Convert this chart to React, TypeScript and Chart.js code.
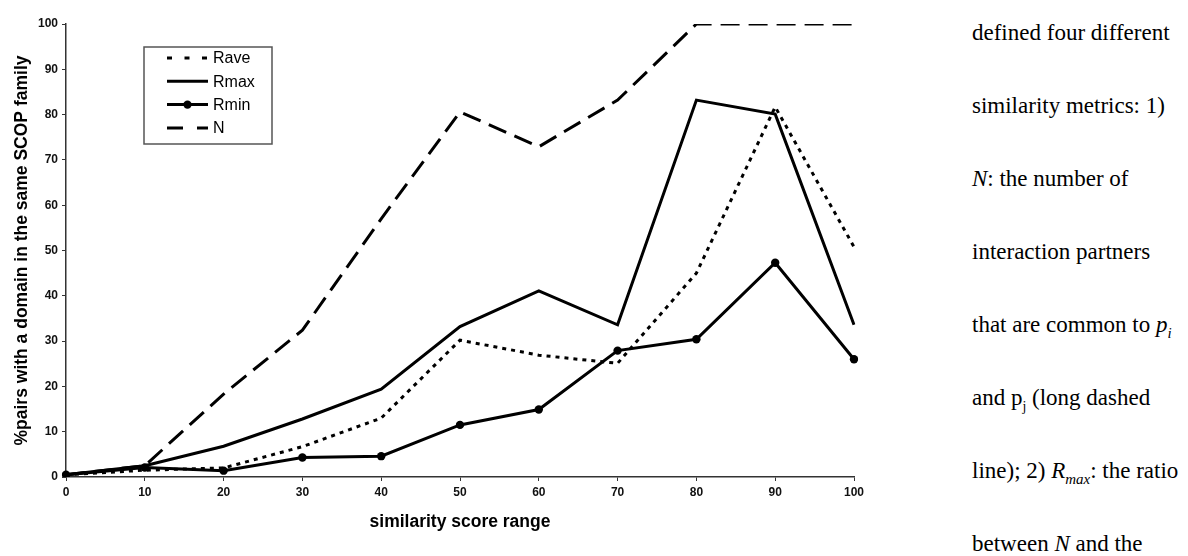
import React, { useEffect, useRef } from 'react';
import { Chart, registerables } from 'chart.js';

Chart.register(...registerables);

const categories = ['0', '10', '20', '30', '40', '50', '60', '70', '80', '90', '100'];
const raveValues = [0.5, 1.5, 2.0, 6.7, 13.0, 30.2, 26.9, 25.1, 45.0, 81.7, 50.8];
const rmaxValues = [0.5, 2.5, 6.8, 12.8, 19.4, 33.2, 41.1, 33.6, 83.2, 80.1, 33.6];
const rminValues = [0.5, 2.1, 1.4, 4.3, 4.6, 11.5, 14.9, 27.9, 30.4, 47.3, 26.0];
const nValues = [0.5, 2.5, 18.3, 32.4, 57.0, 80.6, 72.9, 83.2, 100, 100, 100];
const seriesNames = ['Rave', 'Rmax', 'Rmin', 'N'];
const yMin = 0;
const yMax = 100;
const yStep = 10;
const xTitle = 'similarity score range';
const yTitle = '%pairs with a domain in the same SCOP family';

const SANS = '"Liberation Sans", Arial, Helvetica, sans-serif';

const legendDash: Record<string, number[]> = {
  Rave: [5, 12.5],
  Rmax: [],
  Rmin: [],
  N: [16, 14],
};

const boxLegend = {
  id: 'boxLegend',
  afterDraw(chart: any) {
    const ctx = chart.ctx as CanvasRenderingContext2D;
    const area = chart.chartArea;
    const bx = area.left + 78;
    const by = area.top + 23;
    const bw = 128;
    const bh = 97;
    ctx.save();
    ctx.fillStyle = '#ffffff';
    ctx.fillRect(bx, by, bw, bh);
    ctx.strokeStyle = '#555555';
    ctx.lineWidth = 1.5;
    ctx.setLineDash([]);
    ctx.strokeRect(bx, by, bw, bh);
    const rowStart = by + 11;
    const rowStep = 23.3;
    chart.data.datasets.forEach((ds: any, i: number) => {
      const y = rowStart + i * rowStep;
      const x1 = bx + 23;
      const x2 = bx + 64;
      ctx.beginPath();
      ctx.setLineDash(legendDash[ds.label] || []);
      ctx.lineWidth = 3;
      ctx.strokeStyle = '#000';
      ctx.moveTo(x1, y);
      ctx.lineTo(x2, y);
      ctx.stroke();
      ctx.setLineDash([]);
      if (ds.pointRadius && ds.pointRadius > 0) {
        ctx.beginPath();
        ctx.fillStyle = '#000';
        ctx.arc((x1 + x2) / 2, y, 4.2, 0, Math.PI * 2);
        ctx.fill();
      }
      ctx.fillStyle = '#000';
      ctx.font = `16px ${SANS}`;
      ctx.textBaseline = 'middle';
      ctx.textAlign = 'left';
      ctx.fillText(ds.label, x2 + 5, y + 1);
    });
    ctx.restore();
  },
};

function ChartBox() {
  const ref = useRef<HTMLCanvasElement | null>(null);
  useEffect(() => {
    if (!ref.current) return;
    const common = {
      borderColor: '#000',
      backgroundColor: '#000',
      borderWidth: 3,
      tension: 0,
      fill: false,
    };
    const chart = new Chart(ref.current, {
      type: 'line',
      data: {
        labels: categories,
        datasets: [
          { ...common, label: seriesNames[0], data: raveValues, borderDash: [4, 5], pointRadius: 0 },
          { ...common, label: seriesNames[1], data: rmaxValues, pointRadius: 0 },
          {
            ...common,
            label: seriesNames[2],
            data: rminValues,
            pointRadius: 4.2,
            pointBackgroundColor: '#000',
            pointBorderColor: '#000',
            pointBorderWidth: 0,
          },
          { ...common, label: seriesNames[3], data: nValues, borderDash: [19, 9], pointRadius: 0 },
        ],
      },
      options: {
        responsive: false,
        animation: false,
        events: [],
        layout: { padding: { left: 0, top: 24, right: 116, bottom: 0 } },
        plugins: {
          legend: { display: false },
          tooltip: { enabled: false },
          title: { display: false },
        },
        scales: {
          x: {
            type: 'category',
            offset: false,
            afterFit: (scale: any) => {
              scale.height = 79;
            },
            grid: {
              display: true,
              drawOnChartArea: false,
              drawTicks: true,
              tickLength: 4,
              color: '#333',
              lineWidth: 1,
            },
            border: { display: true, color: '#333', width: 1.5 },
            ticks: {
              color: '#111',
              padding: 4,
              maxRotation: 0,
              autoSkip: false,
              font: { family: SANS, size: 12, weight: 'bold' },
            },
            title: {
              display: true,
              text: xTitle,
              color: '#000',
              font: { family: SANS, size: 17.5, weight: 'bold' },
              padding: { top: 0, bottom: 23.5 },
            },
          },
          y: {
            min: yMin,
            max: yMax,
            afterFit: (scale: any) => {
              scale.width = 66;
            },
            grid: {
              display: true,
              drawOnChartArea: false,
              drawTicks: true,
              tickLength: 4,
              color: '#333',
              lineWidth: 1,
            },
            border: { display: true, color: '#333', width: 1.5 },
            ticks: {
              stepSize: yStep,
              color: '#111',
              padding: 4,
              font: { family: SANS, size: 12, weight: 'bold' },
            },
            title: {
              display: true,
              text: yTitle,
              color: '#000',
              font: { family: SANS, size: 17.5, weight: 'bold' },
              padding: { top: 12, bottom: 0 },
            },
          },
        },
      },
      plugins: [boxLegend],
    } as any);
    return () => chart.destroy();
  }, []);
  return <canvas ref={ref} width={970} height={556} style={{ display: 'block', width: 970, height: 556 }} />;
}

const SERIF = '"Liberation Serif", "Times New Roman", Times, serif';

const textLines: React.ReactNode[] = [
  <>defined four different</>,
  <>similarity metrics: 1)</>,
  <><i>N</i>: the number of</>,
  <>interaction partners</>,
  <>that are common to <i>p<sub style={{ fontSize: '0.65em' }}>i</sub></i></>,
  <>and p<sub style={{ fontSize: '0.6em' }}>j</sub> (long dashed</>,
  <>line); 2) <i>R<sub style={{ fontSize: '0.65em' }}>max</sub></i>: the ratio</>,
  <>between <i>N</i> and the</>,
];

export default function App() {
  return (
    <div
      style={{
        position: 'fixed',
        left: 0,
        top: 0,
        width: 1188,
        height: 556,
        background: '#fff',
        overflow: 'hidden',
      }}
    >
      <div style={{ position: 'absolute', left: 0, top: 0 }}>
        <ChartBox />
      </div>
      {textLines.map((node, i) => (
        <div
          key={i}
          style={{
            position: 'absolute',
            left: 972,
            top: -4 + i * 73,
            height: 73,
            lineHeight: '73px',
            fontFamily: SERIF,
            fontSize: 23,
            color: '#000',
            whiteSpace: 'nowrap',
          }}
        >
          {node}
        </div>
      ))}
    </div>
  );
}
